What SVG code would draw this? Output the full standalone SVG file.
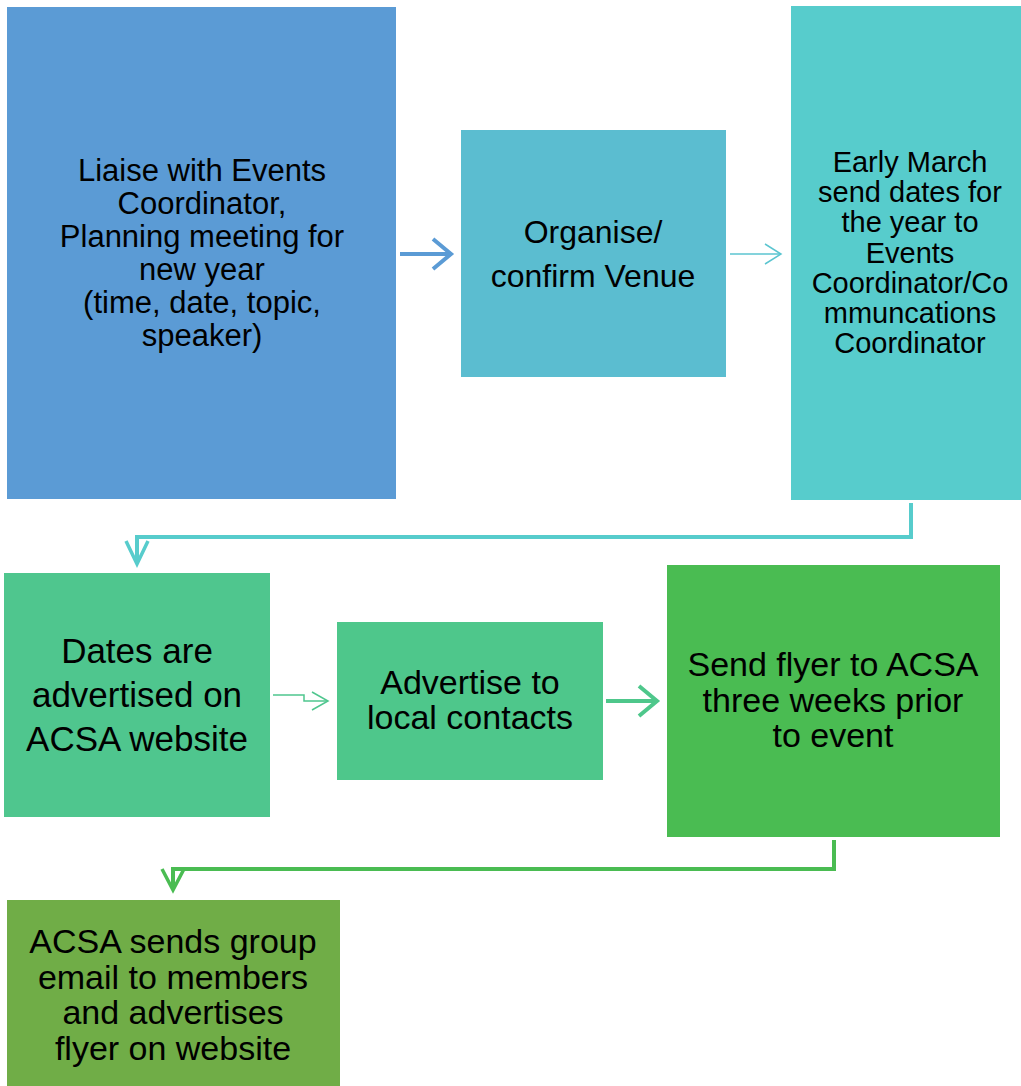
<svg xmlns="http://www.w3.org/2000/svg" width="1021" height="1086" viewBox="0 0 1021 1086">
<style>
text{font-family:"Liberation Sans",Arial,sans-serif;fill:#000;text-anchor:middle}
.c{fill:none;stroke-linejoin:miter;stroke-linecap:butt}
</style>
<rect width="1021" height="1086" fill="#fff"/>
<g id="connectors">
<g id="c1"><path class="c" d="M400 254H450" stroke="#5B9BD5" stroke-width="4"/><path class="c" d="M433 239L451 254L433 269" stroke="#5B9BD5" stroke-width="4"/></g>
<g id="c2"><path class="c" d="M730 254H780" stroke="#5BC5D0" stroke-width="1.5"/><path class="c" d="M765 244L781 254L765 264" stroke="#5BC5D0" stroke-width="1.5"/></g>
<g id="c3"><path class="c" d="M911 503V537H137V562" stroke="#57CCCC" stroke-width="4"/><path class="c" d="M126 541L137 564L148 541" stroke="#57CCCC" stroke-width="3.5"/></g>
<g id="c4"><path class="c" d="M273 695H304V701H327" stroke="#4FC68E" stroke-width="1.5"/><path class="c" d="M312 692L328 701L312 710" stroke="#4FC68E" stroke-width="1.5"/></g>
<g id="c5"><path class="c" d="M606 701H656" stroke="#4EC78B" stroke-width="4"/><path class="c" d="M639 686L657 701L639 716" stroke="#4EC78B" stroke-width="4"/></g>
<g id="c6"><path class="c" d="M834 840V869H173V888" stroke="#4ABC52" stroke-width="4"/><path class="c" d="M162 869L173 890L184 869" stroke="#4ABC52" stroke-width="3.5"/></g>
</g>
<g id="n1"><rect x="7" y="7" width="389" height="492" fill="#5B9BD5"/>
<text font-size="31"><tspan x="202" y="181">Liaise with Events</tspan><tspan x="202" y="214">Coordinator,</tspan><tspan x="202" y="247">Planning meeting for</tspan><tspan x="202" y="280">new year</tspan><tspan x="202" y="313">(time, date, topic,</tspan><tspan x="202" y="346">speaker)</tspan></text></g>
<g id="n2"><rect x="461" y="130" width="265" height="247" fill="#5BBDD0"/>
<text font-size="32"><tspan x="593" y="243">Organise/</tspan><tspan x="593" y="287">confirm Venue</tspan></text></g>
<g id="n3"><rect x="791" y="6" width="230" height="494" fill="#57CCCC"/>
<text font-size="29"><tspan x="910" y="172">Early March</tspan><tspan x="910" y="202">send dates for</tspan><tspan x="910" y="232">the year to</tspan><tspan x="910" y="263">Events</tspan><tspan x="910" y="293">Coordinator/Co</tspan><tspan x="910" y="323">mmuncations</tspan><tspan x="910" y="353">Coordinator</tspan></text></g>
<g id="n4"><rect x="4" y="573" width="266" height="244" fill="#4FC68E"/>
<text font-size="35"><tspan x="137" y="663">Dates are</tspan><tspan x="137" y="707">advertised on</tspan><tspan x="137" y="751">ACSA website</tspan></text></g>
<g id="n5"><rect x="337" y="622" width="266" height="158" fill="#4EC78B"/>
<text font-size="34"><tspan x="470" y="694">Advertise to</tspan><tspan x="470" y="729">local contacts</tspan></text></g>
<g id="n6"><rect x="667" y="565" width="333" height="272" fill="#4ABC52"/>
<text font-size="34"><tspan x="833" y="676">Send flyer to ACSA</tspan><tspan x="833" y="712">three weeks prior</tspan><tspan x="833" y="747">to event</tspan></text></g>
<g id="n7"><rect x="7" y="900" width="333" height="186" fill="#70AD47"/>
<text font-size="34"><tspan x="173" y="953">ACSA sends group</tspan><tspan x="173" y="989">email to members</tspan><tspan x="173" y="1024">and advertises</tspan><tspan x="173" y="1060">flyer on website</tspan></text></g>
</svg>
